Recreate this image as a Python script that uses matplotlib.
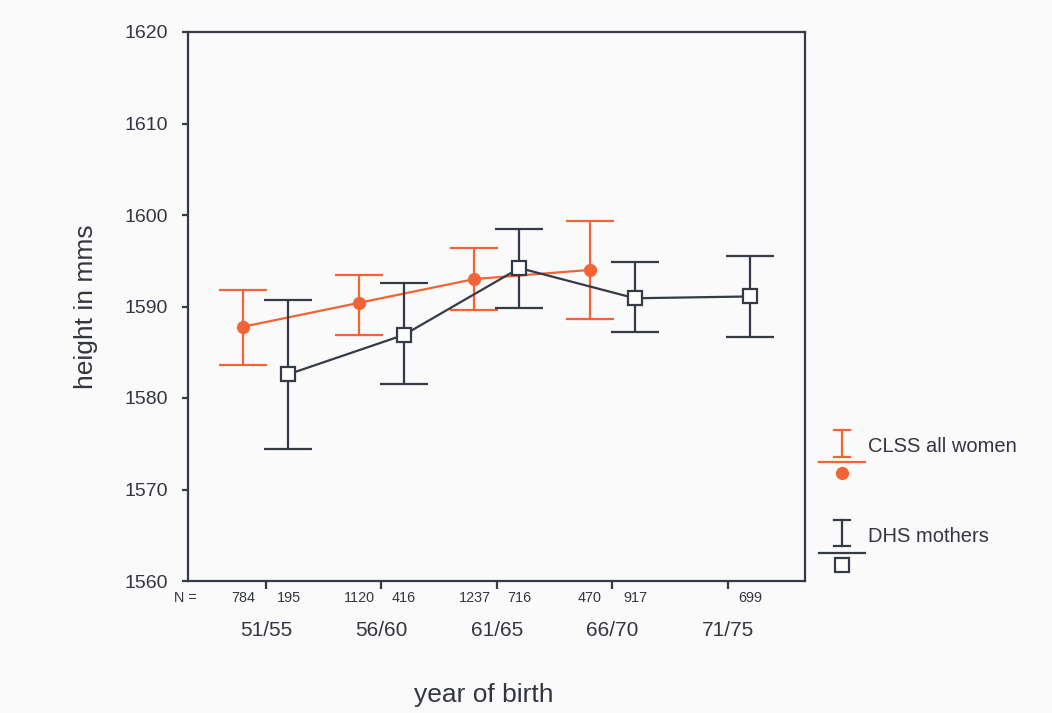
import numpy as np
import matplotlib.pyplot as plt
import matplotlib as mpl

mpl.rcParams['font.family'] = ['Liberation Sans', 'DejaVu Sans']

periods = ['51/55', '56/60', '61/65', '66/70', '71/75']

clss_mean = [1587.8, 1590.4, 1593.0, 1594.0]
clss_hi = [1591.8, 1593.4, 1596.4, 1599.3]
clss_lo = [1583.6, 1586.9, 1589.6, 1588.6]
clss_n = [784, 1120, 1237, 470]

dhs_mean = [1582.6, 1586.9, 1594.2, 1590.9, 1591.1]
dhs_hi = [1590.7, 1592.6, 1598.5, 1594.9, 1595.5]
dhs_lo = [1574.4, 1581.5, 1589.8, 1587.2, 1586.7]
dhs_n = [195, 416, 716, 917, 699]

orange = '#f26436'
dark = '#353a47'
txt = '#333640'
bg = '#fafafa'

fig = plt.figure(figsize=(10.52, 7.13), dpi=100, facecolor=bg)
ax = fig.add_axes([188/1052, 1 - 581/713, (805-188)/1052, (581-32)/713])
ax.set_facecolor(bg)

off = 0.195
xc = np.arange(len(clss_mean)) - off
xd = np.arange(len(dhs_mean)) + off

cm = np.array(clss_mean)
ax.errorbar(xc, cm, yerr=[cm - np.array(clss_lo), np.array(clss_hi) - cm],
            color=orange, lw=1.6, elinewidth=1.6, capsize=17, capthick=1.6,
            marker='o', ms=8.5, mfc=orange, mec=orange, zorder=3)
dm = np.array(dhs_mean)
ax.errorbar(xd, dm, yerr=[dm - np.array(dhs_lo), np.array(dhs_hi) - dm],
            color=dark, lw=1.6, elinewidth=1.6, capsize=17, capthick=1.6,
            marker='s', ms=10, mfc='white', mec=dark, mew=1.6, zorder=4)

ax.set_xlim(-0.675, 4.667)
ax.set_ylim(1560, 1620)
ax.set_yticks(range(1560, 1621, 10))
ax.set_xticks(range(len(periods)))
ax.set_xticklabels([])
for s in ax.spines.values():
    s.set_color(dark)
    s.set_linewidth(1.6)
ax.tick_params(axis='y', colors=dark, length=4.5, width=1.6, labelsize=14,
               pad=10, labelcolor=txt)
ax.tick_params(axis='x', colors=dark, length=6, width=1.6)

ax.set_ylabel('height in mms', fontsize=19, color=txt, labelpad=19)

trans = ax.get_xaxis_transform()
for i, n in enumerate(clss_n):
    ax.text(i - off, -0.031, str(n), transform=trans, ha='center', va='center',
            fontsize=10.4, color=txt)
for i, n in enumerate(dhs_n):
    ax.text(i + off, -0.031, str(n), transform=trans, ha='center', va='center',
            fontsize=10.4, color=txt)
ax.text(-0.70, -0.031, 'N =', transform=trans, ha='center', va='center',
        fontsize=10.4, color=txt)
for i, p in enumerate(periods):
    ax.text(i, -0.09, p, transform=trans, ha='center', va='center',
            fontsize=15, color=txt)
fig.text(484/1052, 1 - 695/713, 'year of birth', ha='center', va='center',
         fontsize=19, color=txt)

# legend drawn by hand
lg = fig.add_axes([0, 0, 1, 1], facecolor='none')
lg.set_xlim(0, 1052)
lg.set_ylim(713, 0)
lg.axis('off')
for (top, bot, line_y, mk_y, label, col, mk) in [
        (430, 457, 462, 473, 'CLSS all women', orange, 'o'),
        (520, 546, 553, 565, 'DHS mothers', dark, 's')]:
    lg.plot([842, 842], [top, bot], color=col, lw=1.6)
    lg.plot([834, 850], [top, top], color=col, lw=1.6)
    lg.plot([834, 850], [bot, bot], color=col, lw=1.6)
    lg.plot([819, 865], [line_y, line_y], color=col, lw=1.6)
    if mk == 'o':
        lg.plot([842], [mk_y], 'o', ms=8.5, color=col)
    else:
        lg.plot([842], [mk_y], 's', ms=10, mfc='white', mec=col, mew=1.6)
    lg.text(868, (top + bot) / 2 + 3, label, ha='left', va='center',
            fontsize=14.5, color=txt)

fig.savefig('out.png', dpi=100, facecolor=bg)
